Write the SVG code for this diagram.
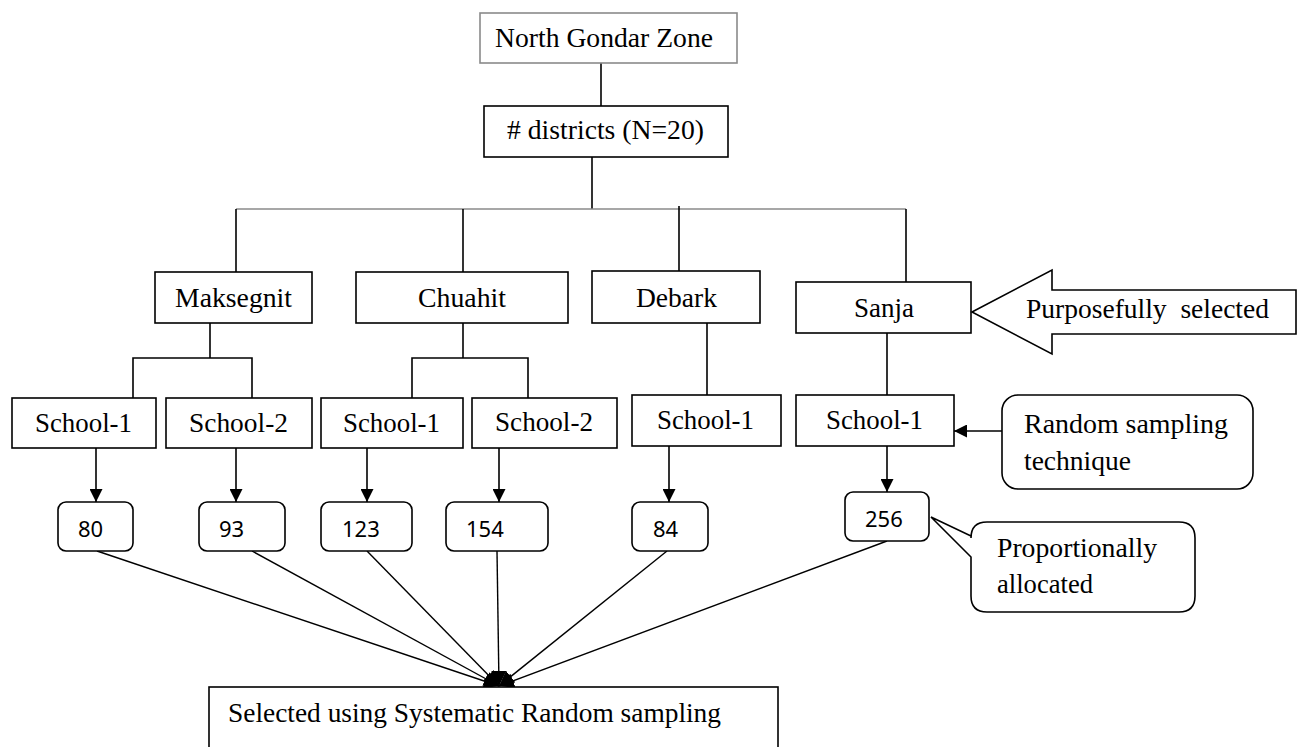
<svg xmlns="http://www.w3.org/2000/svg" width="1297" height="747" viewBox="0 0 1297 747">
<defs>
<style>
.box{fill:#fff;stroke:#000;stroke-width:1.6}
.rbox{fill:#fff;stroke:#000;stroke-width:1.6}
.t{font-family:"Liberation Serif","Times New Roman",serif;font-size:27px;fill:#000}
.n{font-family:"Noto Sans","Open Sans",sans-serif;font-size:22px;fill:#000}
.ln{stroke:#000;stroke-width:1.6;fill:none}
.thin{stroke:#000;stroke-width:1.4;fill:none}
</style>
<marker id="ah" viewBox="0 0 10 10" refX="10" refY="5" markerWidth="13" markerHeight="13" markerUnits="userSpaceOnUse" orient="auto">
<path d="M0,0 L10,5 L0,10 Z" fill="#000"/>
</marker>
<marker id="ahb" viewBox="0 0 10 10" refX="10" refY="5" markerWidth="15" markerHeight="15" markerUnits="userSpaceOnUse" orient="auto">
<path d="M0,0 L10,5 L0,10 Z" fill="#000"/>
</marker>
</defs>
<rect width="1297" height="747" fill="#fff"/>

<g id="connectors">
<line class="ln" x1="601" y1="63" x2="601" y2="106"/>
<line class="ln" x1="592" y1="157" x2="592" y2="209"/>
<line x1="236" y1="209" x2="906" y2="209" stroke="#8a8a8a" stroke-width="1.6"/>
<line class="ln" x1="236" y1="209" x2="236" y2="272"/>
<line class="ln" x1="463" y1="209" x2="463" y2="272"/>
<line class="ln" x1="679" y1="206" x2="679" y2="271"/>
<line class="ln" x1="906" y1="209" x2="906" y2="282"/>
<polyline class="ln" points="210,323 210,358"/>
<polyline class="ln" points="133,398 133,358 252,358 252,398"/>
<polyline class="ln" points="463,323 463,358"/>
<polyline class="ln" points="412,398 412,358 528,358 528,398"/>
<line class="ln" x1="707" y1="323" x2="707" y2="395"/>
<line class="ln" x1="887" y1="333" x2="887" y2="395"/>
<line class="ln" x1="96" y1="448" x2="96" y2="502" marker-end="url(#ah)"/>
<line class="ln" x1="236" y1="448" x2="236" y2="502" marker-end="url(#ah)"/>
<line class="ln" x1="367" y1="448" x2="367" y2="502" marker-end="url(#ah)"/>
<line class="ln" x1="499" y1="448" x2="499" y2="502" marker-end="url(#ah)"/>
<line class="ln" x1="669" y1="446" x2="669" y2="502" marker-end="url(#ah)"/>
<line class="ln" x1="887" y1="446" x2="887" y2="492" marker-end="url(#ah)"/>
<line class="ln" x1="1002" y1="431" x2="954" y2="431" marker-end="url(#ah)"/>
<line class="thin" x1="97" y1="551" x2="499" y2="686" marker-end="url(#ahb)"/>
<line class="thin" x1="252" y1="551" x2="499" y2="686" marker-end="url(#ahb)"/>
<line class="thin" x1="367" y1="551" x2="499" y2="686" marker-end="url(#ahb)"/>
<line class="thin" x1="497" y1="551" x2="499" y2="686" marker-end="url(#ahb)"/>
<line class="thin" x1="667" y1="551" x2="499" y2="686" marker-end="url(#ahb)"/>
<line class="thin" x1="887" y1="541" x2="499" y2="686" marker-end="url(#ahb)"/>
</g>

<g id="north-gondar">
<rect x="480" y="13" width="257" height="50" fill="#fff" stroke="#8a8a8a" stroke-width="1.6"/>
<text class="t" x="495" y="47" textLength="218" lengthAdjust="spacingAndGlyphs">North Gondar Zone</text>
</g>
<g id="districts">
<rect class="box" x="484" y="106" width="244" height="51"/>
<text class="t" x="507" y="139" textLength="197" lengthAdjust="spacingAndGlyphs"># districts (N=20)</text>
</g>
<g id="maksegnit">
<rect class="box" x="155" y="272" width="157" height="51"/>
<text class="t" x="175" y="307" textLength="117" lengthAdjust="spacingAndGlyphs">Maksegnit</text>
</g>
<g id="chuahit">
<rect class="box" x="356" y="272" width="212" height="51"/>
<text class="t" x="418" y="307" textLength="88" lengthAdjust="spacingAndGlyphs">Chuahit</text>
</g>
<g id="debark">
<rect class="box" x="592" y="271" width="168" height="52"/>
<text class="t" x="636" y="307" textLength="81" lengthAdjust="spacingAndGlyphs">Debark</text>
</g>
<g id="sanja">
<rect class="box" x="796" y="282" width="175" height="51"/>
<text class="t" x="854" y="317" textLength="60" lengthAdjust="spacingAndGlyphs">Sanja</text>
</g>
<g id="purposefully">
<polygon class="box" points="972,312 1052,270 1052,290 1296,290 1296,334 1052,334 1052,354"/>
<text class="t" x="1026" y="318" textLength="243" lengthAdjust="spacingAndGlyphs" xml:space="preserve">Purposefully  selected</text>
</g>

<g id="m-school1">
<rect class="box" x="12" y="398" width="144" height="50"/>
<text class="t" x="35" y="432" textLength="97" lengthAdjust="spacingAndGlyphs">School-1</text>
</g>
<g id="m-school2">
<rect class="box" x="166" y="398" width="146" height="50"/>
<text class="t" x="189" y="432" textLength="99" lengthAdjust="spacingAndGlyphs">School-2</text>
</g>
<g id="c-school1">
<rect class="box" x="321" y="398" width="142" height="50"/>
<text class="t" x="343" y="432" textLength="97" lengthAdjust="spacingAndGlyphs">School-1</text>
</g>
<g id="c-school2">
<rect class="box" x="472" y="398" width="145" height="50"/>
<text class="t" x="495" y="431" textLength="98" lengthAdjust="spacingAndGlyphs">School-2</text>
</g>
<g id="d-school1">
<rect class="box" x="632" y="395" width="149" height="51"/>
<text class="t" x="657" y="429" textLength="97" lengthAdjust="spacingAndGlyphs">School-1</text>
</g>
<g id="s-school1">
<rect class="box" x="796" y="395" width="158" height="51"/>
<text class="t" x="826" y="429" textLength="97" lengthAdjust="spacingAndGlyphs">School-1</text>
</g>
<g id="random-callout">
<rect class="rbox" x="1002" y="395" width="251" height="94" rx="16"/>
<text class="t" x="1024" y="433" textLength="204" lengthAdjust="spacingAndGlyphs">Random sampling</text>
<text class="t" x="1024" y="470" textLength="107" lengthAdjust="spacingAndGlyphs">technique</text>
</g>

<g id="n80">
<rect class="rbox" x="58" y="502" width="75" height="49" rx="8"/>
<text class="n" x="78" y="537">80</text>
</g>
<g id="n93">
<rect class="rbox" x="199" y="502" width="86" height="49" rx="8"/>
<text class="n" x="219" y="537">93</text>
</g>
<g id="n123">
<rect class="rbox" x="321" y="502" width="91" height="49" rx="8"/>
<text class="n" x="342" y="537">123</text>
</g>
<g id="n154">
<rect class="rbox" x="446" y="502" width="102" height="49" rx="8"/>
<text class="n" x="466" y="537">154</text>
</g>
<g id="n84">
<rect class="rbox" x="632" y="502" width="76" height="49" rx="8"/>
<text class="n" x="653" y="537">84</text>
</g>
<g id="n256">
<rect class="rbox" x="845" y="492" width="84" height="49" rx="8"/>
<text class="n" x="865" y="527">256</text>
</g>
<g id="proportional-callout">
<path class="rbox" d="M987,522 H1179 Q1195,522 1195,538 V596 Q1195,612 1179,612 H987 Q971,612 971,596 V557 L931,517 L971,536 V538 Q971,522 987,522 Z"/>
<text class="t" x="997" y="557" textLength="160" lengthAdjust="spacingAndGlyphs">Proportionally</text>
<text class="t" x="997" y="593" textLength="96" lengthAdjust="spacingAndGlyphs">allocated</text>
</g>

<g id="systematic">
<rect class="box" x="209" y="687" width="569" height="80"/>
<text class="t" x="228" y="722" textLength="493" lengthAdjust="spacingAndGlyphs">Selected using Systematic Random sampling</text>
</g>
</svg>
